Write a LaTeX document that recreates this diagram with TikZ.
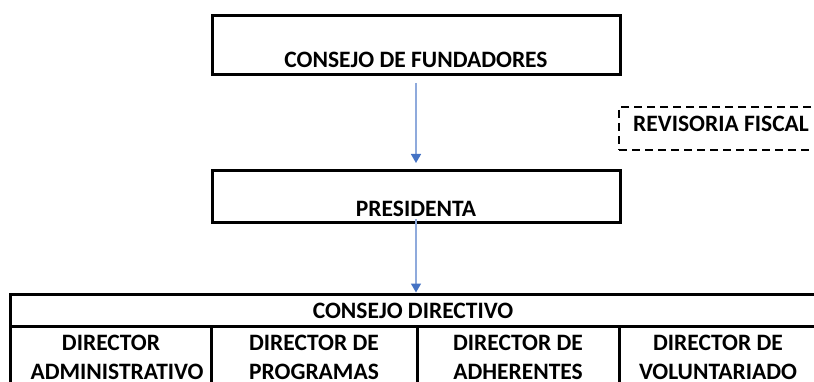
\documentclass[tikz,border=0pt]{standalone}
\usepackage{fontspec}
\setmainfont{Carlito}
\usetikzlibrary{arrows.meta}
\definecolor{arrline}{HTML}{8FAADC}
\definecolor{arrhead}{HTML}{4472C4}
\begin{document}
\begin{tikzpicture}[x=1pt,y=-1pt,
  box/.style={draw=black,line width=3pt,minimum width=408pt,inner sep=0pt},
  cellbox/.style={draw=black,line width=3pt,inner sep=0pt},
  lbl/.style={inner sep=0pt,anchor=base,font=\fontsize{23.5}{28}\bfseries\selectfont},
  conn/.style={draw=arrline,line width=1.5pt,-{Triangle[width=10pt,length=9pt,color=arrhead]}}
]
\useasboundingbox (0,0) rectangle (814,382);
% top boxes
\node[box,minimum height=59pt] (fund) at (416,45.5) {};
\node[lbl] (fundt) at (416,68) {CONSEJO DE FUNDADORES};
\node[box,minimum height=52pt] (pres) at (416,197) {};
\node[lbl] (prest) at (416,217) {PRESIDENTA};
% revisoria
\node[draw=black,line width=2.5pt,dash pattern=on 8pt off 5pt,minimum width=211pt,minimum height=43pt,inner sep=0pt] (rev) at (724.5,128.5) {};
\node[lbl] (revt) at (721,132) {REVISORIA FISCAL};
% table
\node[cellbox,minimum width=806pt,minimum height=32pt] (cd) at (413,310) {};
\node[lbl] (cdt) at (413,318) {CONSEJO DIRECTIVO};
\node[cellbox,minimum width=201pt,minimum height=64pt] (c1) at (110.5,358) {};
\node[cellbox,minimum width=206pt,minimum height=64pt] (c2) at (314,358) {};
\node[cellbox,minimum width=202pt,minimum height=64pt] (c3) at (518,358) {};
\node[cellbox,minimum width=202pt,minimum height=64pt] (c4) at (720,358) {};
\node[lbl] (c1a) at (111,350) {DIRECTOR};
\node[lbl] (c1b) at (117,379) {ADMINISTRATIVO};
\node[lbl] (c2a) at (314,350) {DIRECTOR DE};
\node[lbl] (c2b) at (314,379) {PROGRAMAS};
\node[lbl] (c3a) at (518,350) {DIRECTOR DE};
\node[lbl] (c3b) at (518,379) {ADHERENTES};
\node[lbl] (c4a) at (718,350) {DIRECTOR DE};
\node[lbl] (c4b) at (718,379) {VOLUNTARIADO};
% connectors
\draw[conn,shorten <=6.5pt,shorten >=6.5pt] (fund) -- (pres);
\draw[conn,shorten <=-5pt] (pres.south) -- (pres.south |- cd.north);
\end{tikzpicture}
\end{document}
